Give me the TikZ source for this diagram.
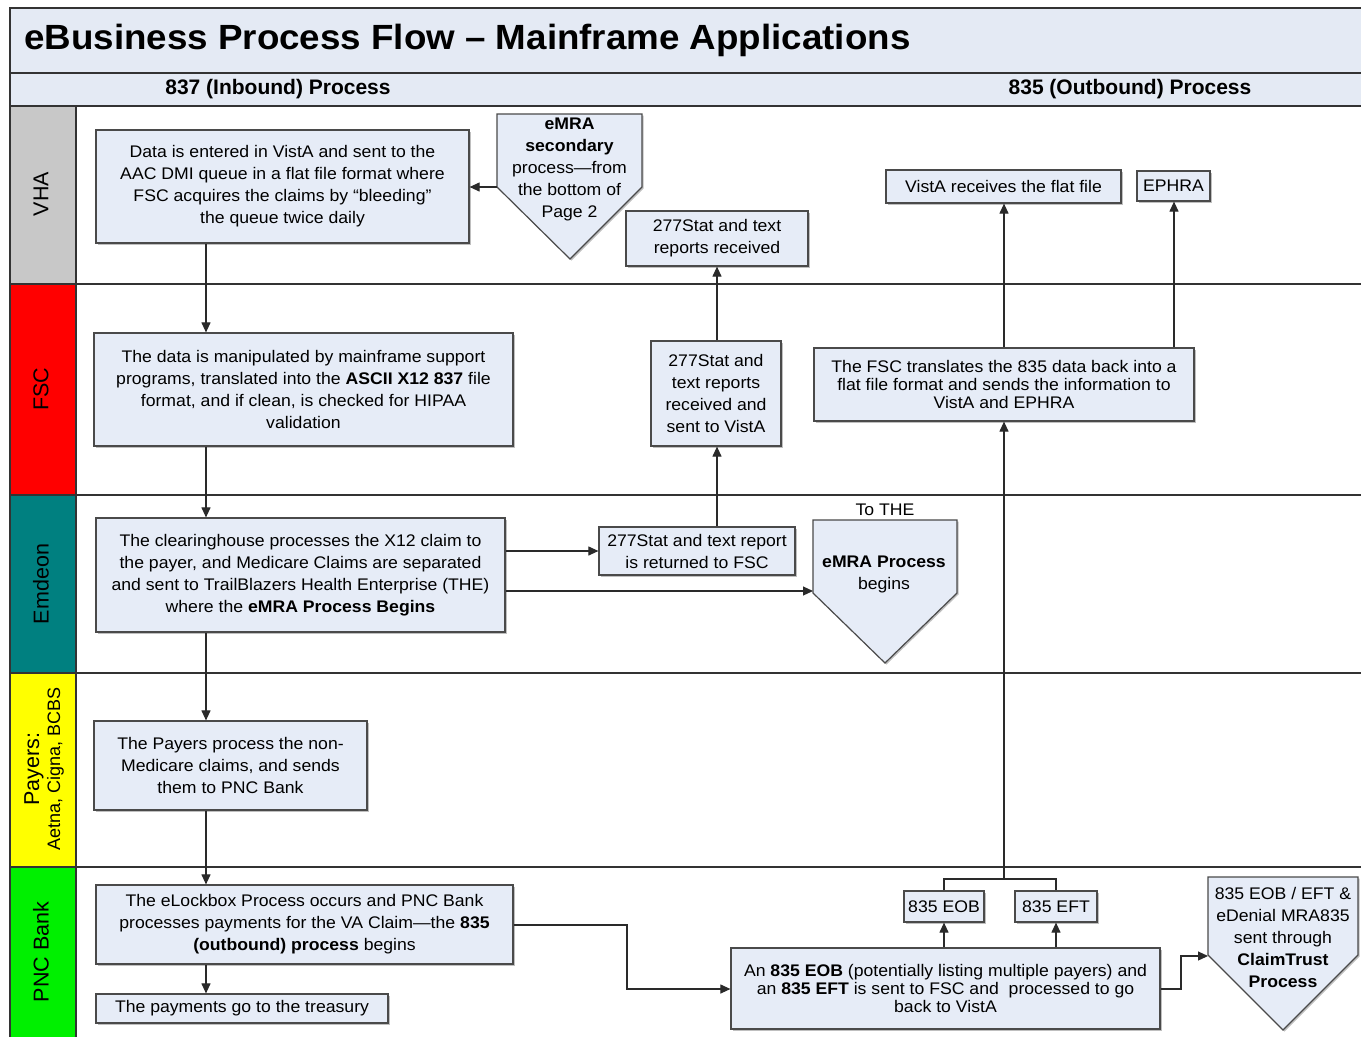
\documentclass[tikz,border=0pt]{standalone}
\usepackage{fontspec}
\setmainfont[FakeStretch=1.05]{Liberation Sans}
\newfontfamily\labfont{Liberation Sans}
\usetikzlibrary{arrows.meta,shadows}
\definecolor{boxfill}{HTML}{E6ECF7}
\definecolor{bandfill}{HTML}{E4EAF4}
\definecolor{boxline}{HTML}{4A4A4A}
\definecolor{conn}{HTML}{2A2A2A}
\definecolor{vhacol}{HTML}{C8C8C8}
\definecolor{fsccol}{HTML}{FF0000}
\definecolor{emdcol}{HTML}{008080}
\definecolor{paycol}{HTML}{FFFF00}
\definecolor{pnccol}{HTML}{00F000}
\tikzset{
  box/.style={draw=boxline, fill=boxfill, line width=1.2pt, align=center, inner sep=0pt,
    font=\fontsize{16.8}{22}\selectfont, drop shadow={shadow xshift=1.5pt, shadow yshift=-1.5pt, fill=black, opacity=0.25}},
  pent/.style={draw=boxline, fill=boxfill, line width=1.2pt, drop shadow={shadow xshift=1.5pt, shadow yshift=-1.5pt, fill=black, opacity=0.25}},
  ptext/.style={align=center, inner sep=0pt, font=\fontsize{16.8}{22}\selectfont},
  arr/.style={draw=conn, line width=1.1pt, -{Triangle[length=10pt,width=9pt]}},
  ln/.style={draw=conn, line width=1.1pt},
  lane/.style={draw=black!80, line width=1.4pt},
  lanelab/.style={rotate=90, align=center, inner sep=0pt, font=\labfont\fontsize{21.5}{24}\selectfont}
}
\begin{document}
\begin{tikzpicture}[x=1pt,y=-1pt]
\useasboundingbox (0,0) rectangle (1361,1037);
\fill[white] (0,0) rectangle (1361,1037);
% bands
\fill[bandfill] (10,8) rectangle (1361,106);
\fill[vhacol] (10,106) rectangle (76,284);
\fill[fsccol] (10,284) rectangle (76,495);
\fill[emdcol] (10,495) rectangle (76,673);
\fill[paycol] (10,673) rectangle (76,867);
\fill[pnccol] (10,867) rectangle (76,1037);
\draw[lane] (1361,8) -- (10,8) -- (10,1037);
\foreach \yy in {73,106,284,495,673,867} \draw[lane] (10,\yy) -- (1361,\yy);
\draw[lane] (76,106) -- (76,1037);
% titles
\node[anchor=west, inner sep=0pt, font=\bfseries\fontsize{35}{38}\selectfont] (title) at (24,40) {eBusiness Process Flow -- Mainframe Applications};
\node[inner sep=0pt, font=\bfseries\labfont\fontsize{21}{24}\selectfont] (inb) at (278,89) {837 (Inbound) Process};
\node[inner sep=0pt, font=\bfseries\labfont\fontsize{21}{24}\selectfont] (outb) at (1130,89) {835 (Outbound) Process};
% lane labels
\node[lanelab] (lvha) at (41,194) {VHA};
\node[lanelab] (lfsc) at (41,389) {FSC};
\node[lanelab] (lemd) at (41,584) {Emdeon};
\node[lanelab] (lpay) at (44,769) {Payers:\\[-3pt]{\fontsize{18}{20}\selectfont Aetna, Cigna, BCBS}};
\node[lanelab] (lpnc) at (41,952) {PNC Bank};
% boxes
\node[box, minimum width=373pt, minimum height=113pt] (vha) at (282.5,186.5)
  {Data is entered in VistA and sent to the\\AAC DMI queue in a flat file format where\\FSC acquires the claims by ``bleeding''\\the queue twice daily};
\node[box, minimum width=182pt, minimum height=55pt] (recv) at (717,238.5)
  {277Stat and text\\reports received};
\node[box, minimum width=235pt, minimum height=33pt] (vista) at (1003.5,186.5)
  {VistA receives the flat file};
\node[box, minimum width=73pt, minimum height=30pt] (ephra) at (1173.5,186)
  {EPHRA};
\node[box, minimum width=419pt, minimum height=113pt] (fsc) at (303.5,389.5)
  {The data is manipulated by mainframe support\\programs, translated into the \textbf{ASCII X12 837} file\\format, and if clean, is checked for HIPAA\\validation};
\node[box, minimum width=130pt, minimum height=105pt] (sent) at (716,393.5)
  {277Stat and\\text reports\\received and\\sent to VistA};
\node[box, minimum width=380pt, minimum height=73pt, font=\fontsize{16.8}{18}\selectfont] (trans) at (1004,384.5)
  {The FSC translates the 835 data back into a\\flat file format and sends the information to\\VistA and EPHRA};
\node[box, minimum width=409pt, minimum height=114pt] (emd) at (300.5,575)
  {The clearinghouse processes the X12 claim to\\the payer, and Medicare Claims are separated\\and sent to TrailBlazers Health Enterprise (THE)\\where the \textbf{eMRA Process Begins}};
\node[box, minimum width=196pt, minimum height=48pt] (ret) at (697,551)
  {277Stat and text report\\is returned to FSC};
\node[box, minimum width=273pt, minimum height=89pt] (pay) at (230.5,765.5)
  {The Payers process the non-\\Medicare claims, and sends\\them to PNC Bank};
\node[box, minimum width=417pt, minimum height=79pt] (pnc) at (304.5,924.5)
  {The eLockbox Process occurs and PNC Bank\\processes payments for the VA Claim---the \textbf{835}\\\textbf{(outbound) process} begins};
\node[box, minimum width=292pt, minimum height=29pt] (treas) at (242,1008.5)
  {The payments go to the treasury};
\node[box, minimum width=80pt, minimum height=31pt] (eob) at (944,906.5) {835 EOB};
\node[box, minimum width=82pt, minimum height=31pt] (eft) at (1056,906.5) {835 EFT};
\node[box, minimum width=429pt, minimum height=81pt, font=\fontsize{16.8}{18}\selectfont] (bot) at (945.5,988.5)
  {An \textbf{835 EOB} (potentially listing multiple payers) and\\an \textbf{835 EFT} is sent to FSC and~ processed to go\\back to VistA};
% pentagons
\draw[pent] (497,114) -- (642,114) -- (642,187) -- (570,259) -- (497,187) -- cycle;
\node[ptext] (sec) at (569.5,169) {\textbf{eMRA}\\\textbf{secondary}\\process---from\\the bottom of\\Page 2};
\coordinate (secL) at (497,187);
\draw[pent] (813,520) -- (957,520) -- (957,593) -- (885,663) -- (813,593) -- cycle;
\node[ptext] (emra) at (884,574) {\textbf{eMRA Process}\\begins};
\node[ptext] (tothe) at (885,510) {To THE};
\coordinate (emraL) at (813,591);
\draw[pent] (1208,877) -- (1358,877) -- (1358,955) -- (1283,1030) -- (1208,955) -- cycle;
\node[ptext] (ct) at (1283,937) {835 EOB / EFT \&\\eDenial MRA835\\sent through\\\textbf{ClaimTrust}\\\textbf{Process}};
\coordinate (ctL) at (1208,956);
% connectors
\draw[arr] (secL) -- (vha.east |- secL);
\draw[arr] (vha.south -| 206,0) -- (fsc.north -| 206,0);
\draw[arr] (fsc.south -| 206,0) -- (emd.north -| 206,0);
\draw[arr] (emd.south -| 206,0) -- (pay.north -| 206,0);
\draw[arr] (pay.south -| 206,0) -- (pnc.north -| 206,0);
\draw[arr] (pnc.south -| 206,0) -- (treas.north -| 206,0);
\draw[arr] (emd.east |- 0,551) -- (ret.west);
\draw[arr] (emd.east |- emraL) -- (emraL);
\draw[arr] (ret.north -| 717,0) -- (sent.south -| 717,0);
\draw[arr] (sent.north -| 717,0) -- (recv.south -| 717,0);
\draw[arr] (pnc.east |- 0,925) -| (627,989) -- (bot.west |- 0,989);
\draw[arr] (bot.north -| eob) -- (eob.south);
\draw[arr] (bot.north -| eft) -- (eft.south);
\draw[ln] (eob.north) -- (eob.north |- 0,879) -- (eft.north |- 0,879) -- (eft.north);
\draw[arr] (1004,879) -- (trans.south -| 1004,0);
\draw[arr] (trans.north -| 1004,0) -- (vista.south -| 1004,0);
\draw[arr] (trans.north -| 1174,0) -- (ephra.south -| 1174,0);
\draw[arr] (bot.east |- 0,989) -- (1181,989) -- (1181,956) -- (ctL);
\end{tikzpicture}
\end{document}
